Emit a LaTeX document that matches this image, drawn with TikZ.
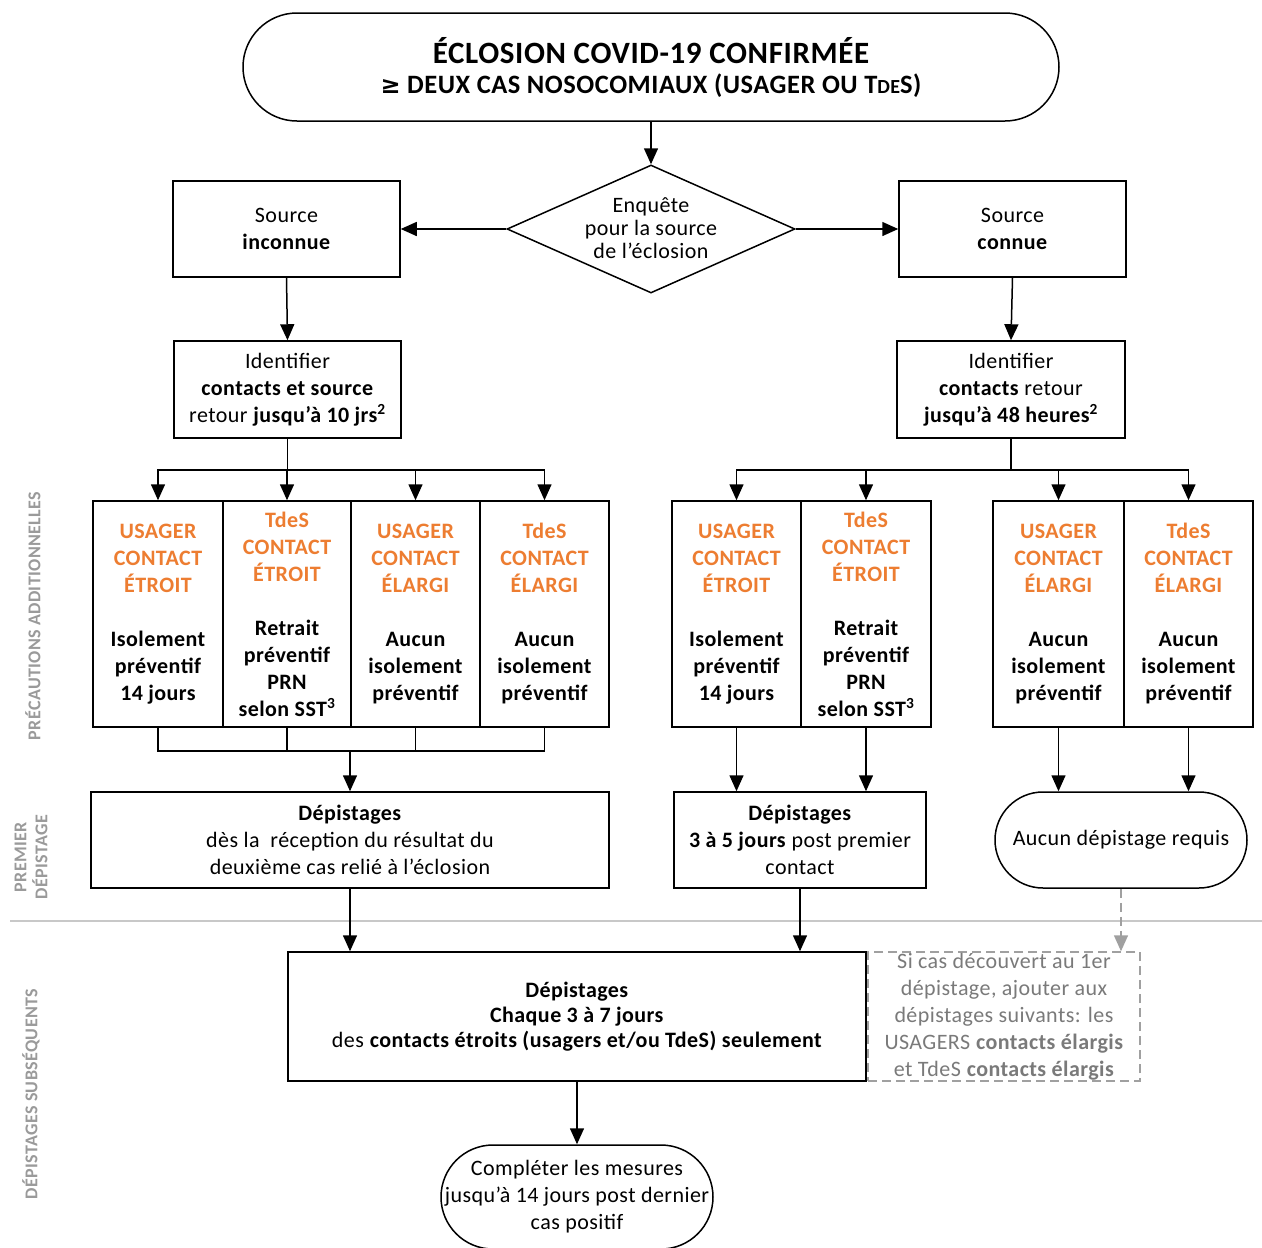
\documentclass[tikz,border=0pt]{standalone}
\usepackage{fontspec}
\setmainfont{Carlito}[LetterSpace=2]
\newfontfamily\symfont{DejaVu Sans}
\usetikzlibrary{arrows.meta,shapes.geometric}
\definecolor{orng}{HTML}{ED7D31}
\definecolor{sidegray}{HTML}{9A9A9A}
\definecolor{notegray}{HTML}{7A7A7A}
\definecolor{dashgray}{HTML}{A0A0A0}
\definecolor{sepgray}{HTML}{C8C8C8}
\newcommand\bodyfont{\fontsize{22}{27}\selectfont}
\newcommand\sidefont{\fontsize{18}{21}\selectfont\bfseries}
\newcommand\orn[1]{\textcolor{orng}{#1}}
\begin{document}
\begin{tikzpicture}[x=1pt,y=-1pt,
  box/.style={draw, line width=1.5pt, fill=white, align=center, inner sep=0pt, font=\bodyfont},
  colbox/.style={box, font=\bodyfont\bfseries, minimum height=226pt},
  term/.style={box, rounded corners=#1},
  arr/.style={line width=1.5pt, -{Triangle[length=16pt,width=14pt]}},
  ln/.style={line width=1.5pt, line cap=rect},
  side/.style={font=\sidefont, text=sidegray, rotate=90, align=center},
]
\useasboundingbox[fill=white] (0,0) rectangle (1262,1248);

% top terminal
\node[term=54pt, minimum width=816pt, minimum height=108pt, font=\fontsize{28}{30}\selectfont\bfseries] (top) at (651,67)
  {{\fontsize{31}{30}\selectfont ÉCLOSION COVID-19 CONFIRMÉE}\\
   {\fontsize{26.5}{30}\selectfont {\symfont\bfseries\fontsize{24}{30}\selectfont ≥} DEUX CAS NOSOCOMIAUX (USAGER OU T{\fontsize{20}{30}\selectfont DE}S)}};

% diamond
\node[diamond, draw, line width=1.5pt, fill=white, minimum width=288pt, minimum height=128pt, inner sep=0pt] (enq) at (651,229) {};
\node[font=\fontsize{22}{23}\selectfont, align=center] (enqt) at (651,228) {Enquête\\pour la source\\de l’éclosion};

% source boxes
\node[box, minimum width=227pt, minimum height=96pt] (sl) at (286.5,229) {Source\\\textbf{inconnue}};
\node[box, minimum width=227pt, minimum height=96pt] (sr) at (1012.5,229) {Source\\\textbf{connue}};

% identifier boxes
\node[box, minimum width=227pt, minimum height=97pt] (il) at (287.5,389.5)
  {Identifier\\\textbf{contacts et source}\\retour \textbf{jusqu’à 10 jrs\textsuperscript{2}}};
\node[box, minimum width=228pt, minimum height=97pt] (ir) at (1011,389.5)
  {Identifier\\\textbf{contacts} retour\\\textbf{jusqu’à 48 heures\textsuperscript{2}}};

% left columns
\node[colbox, minimum width=130pt] (l1) at (158,614)
  {\orn{USAGER}\\\orn{CONTACT}\\\orn{ÉTROIT}\\[27pt]Isolement\\préventif\\14 jours};
\node[colbox, minimum width=128pt] (l2) at (287,614)
  {\orn{TdeS}\\\orn{CONTACT}\\\orn{ÉTROIT}\\[27pt]Retrait\\préventif\\PRN\\selon SST\textsuperscript{3}};
\node[colbox, minimum width=129pt] (l3) at (415.5,614)
  {\orn{USAGER}\\\orn{CONTACT}\\\orn{ÉLARGI}\\[27pt]Aucun\\isolement\\préventif};
\node[colbox, minimum width=129pt] (l4) at (544.5,614)
  {\orn{TdeS}\\\orn{CONTACT}\\\orn{ÉLARGI}\\[27pt]Aucun\\isolement\\préventif};

% right columns
\node[colbox, minimum width=129pt] (r1) at (736.5,614)
  {\orn{USAGER}\\\orn{CONTACT}\\\orn{ÉTROIT}\\[27pt]Isolement\\préventif\\14 jours};
\node[colbox, minimum width=130pt] (r2) at (866,614)
  {\orn{TdeS}\\\orn{CONTACT}\\\orn{ÉTROIT}\\[27pt]Retrait\\préventif\\PRN\\selon SST\textsuperscript{3}};
\node[colbox, minimum width=131pt] (r3) at (1058.5,614)
  {\orn{USAGER}\\\orn{CONTACT}\\\orn{ÉLARGI}\\[27pt]Aucun\\isolement\\préventif};
\node[colbox, minimum width=129pt] (r4) at (1188.5,614)
  {\orn{TdeS}\\\orn{CONTACT}\\\orn{ÉLARGI}\\[27pt]Aucun\\isolement\\préventif};

% first screening
\node[box, minimum width=518pt, minimum height=96pt] (dl) at (350,840)
  {\textbf{Dépistages}\\dès la\ \ réception du résultat du\\deuxième cas relié à l’éclosion};
\node[box, minimum width=252pt, minimum height=96pt] (dm) at (800,840)
  {\textbf{Dépistages}\\\textbf{3 à 5 jours} post premier\\contact};
\node[term=48pt, minimum width=252pt, minimum height=96pt] (dr) at (1121,840)
  {Aucun dépistage requis};

% separator
\draw[sepgray, line width=1.2pt] (10,921) -- (1262,921);

% subsequent screening
\node[box, minimum width=578pt, minimum height=129pt, font=\fontsize{22}{25}\selectfont] (bb) at (577,1016.5)
  {\textbf{Dépistages}\\\textbf{Chaque 3 à 7 jours}\\des \textbf{contacts étroits (usagers et/ou TdeS) seulement}};
\node[draw=dashgray, dash pattern=on 9pt off 5pt, line width=1.5pt, minimum width=272pt, minimum height=129pt,
  align=center, inner sep=0pt, font=\bodyfont, text=notegray] (note) at (1004,1016.5)
  {Si cas découvert au 1er\\dépistage, ajouter aux\\dépistages suivants: les\\USAGERS \textbf{contacts élargis}\\et TdeS \textbf{contacts élargis}};

\node[term=52pt, minimum width=272pt, minimum height=104pt] (fin) at (577,1197)
  {Compléter les mesures\\jusqu’à 14 jours post dernier\\cas positif};

% side labels
\node[side] (s1) at (33,616) {PRÉCAUTIONS ADDITIONNELLES};
\node[side] (s2) at (31,857) {PREMIER\\DÉPISTAGE};
\node[side] (s3) at (31,1094) {DÉPISTAGES SUBSÉQUENTS};

% connectors
\draw[arr] (top.south) -- (enq.north);
\draw[arr] (enq.west) -- (sl.east);
\draw[arr] (enq.east) -- (sr.west);
\draw[arr] (sl.south) -- (il.north);
\draw[arr] (sr.south) -- (ir.north);

\coordinate (bl) at (287.5,470);
\draw[ln] (il.south) -- (bl);
\draw[ln] (l1.north |- bl) -- (l4.north |- bl);
\foreach \c in {l1,l2,l3,l4} \draw[arr] (\c.north |- bl) -- (\c.north);

\coordinate (br) at (1011,470);
\draw[ln] (ir.south) -- (br);
\draw[ln] (r1.north |- br) -- (r4.north |- br);
\foreach \c in {r1,r2,r3,r4} \draw[arr] (\c.north |- br) -- (\c.north);

\coordinate (jl) at (350,751);
\foreach \c in {l1,l2,l3,l4} \draw[ln] (\c.south) -- (\c.south |- jl);
\draw[ln] (l1.south |- jl) -- (l4.south |- jl);
\draw[arr] (jl) -- (dl.north);

\draw[arr] (r1.south) -- (r1.south |- dm.north);
\draw[arr] (r2.south) -- (r2.south |- dm.north);
\draw[arr] (r3.south) -- (r3.south |- dr.north);
\draw[arr] (r4.south) -- (r4.south |- dr.north);

\draw[arr] (dl.south) -- (dl.south |- bb.north);
\draw[arr] (dm.south) -- (dm.south |- bb.north);
\draw[arr, dashgray, dash pattern=on 9pt off 5pt] (dr.south) -- (dr.south |- note.north);
\draw[arr] (bb.south) -- (fin.north);
\end{tikzpicture}
\end{document}
